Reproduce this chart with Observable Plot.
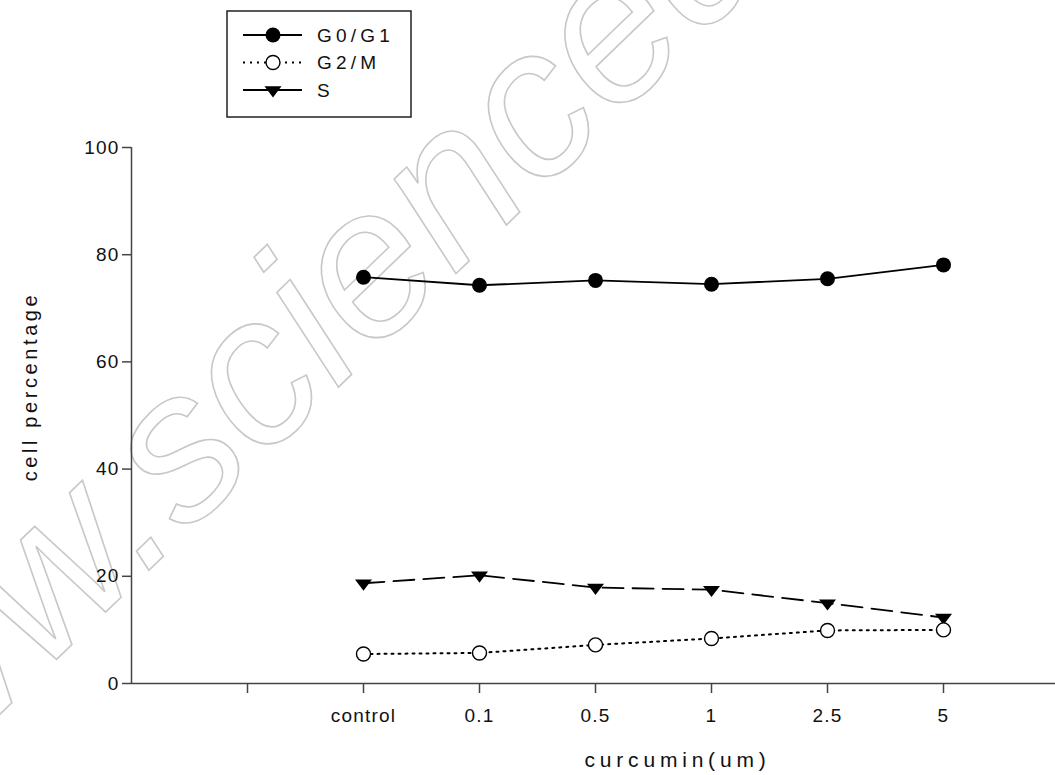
<!DOCTYPE html>
<html>
<head>
<meta charset="utf-8">
<script src="https://cdn.jsdelivr.net/npm/d3@7"></script>
<script src="https://cdn.jsdelivr.net/npm/@observablehq/plot@0.6"></script>
<style>
  html, body { margin: 0; padding: 0; background: #fff; }
  #chart svg { display: block; }
  #chart svg g[aria-label="y-axis tick label"] text,
  #chart svg g[aria-label="x-axis tick label"] text { letter-spacing: 1.2px; }
</style>
</head>
<body>
<div id="chart"></div>
<script>
// Cell-cycle distribution under increasing curcumin doses
const doses = ["control", "0.1", "0.5", "1", "2.5", "5"];
const g0g1 = [75.8, 74.3, 75.2, 74.5, 75.5, 78.1];
const g2m = [5.5, 5.7, 7.2, 8.4, 9.9, 10.0];
const sPhase = [18.7, 20.2, 17.9, 17.5, 15.0, 12.3];
const xTickLabels = ["", "control", "0.1", "0.5", "1", "2.5", "5"];
const yTicks = [0, 20, 40, 60, 80, 100];
const seriesNames = ["G0/G1", "G2/M", "S"];

// doses sit on slots 2..7; slot 1 is an empty tick, 0 and 8 pad the axis
const rows = (vals, name) => vals.map((v, i) => ({slot: i + 2, dose: doses[i], value: v, series: name}));
const g0Rows = rows(g0g1, seriesNames[0]);
const g2Rows = rows(g2m, seriesNames[1]);
const sRows = rows(sPhase, seriesNames[2]);

// flat downward triangle, centred on its centroid
const downTriangle = {
  draw(context) {
    context.moveTo(-8.5, -3.7);
    context.lineTo(8.5, -3.7);
    context.lineTo(0, 7.4);
    context.closePath();
  }
};

const font = "'Liberation Sans', Arial, sans-serif";

const chart = Plot.plot({
  width: 1055,
  height: 775,
  marginLeft: 131,
  marginRight: 0,
  marginTop: 147,
  marginBottom: 92,
  style: {fontFamily: font, fontSize: "19px", color: "#111", background: "#fff"},
  x: {domain: [0, 8], range: [131, 1059], axis: null},
  y: {domain: [0, 100], axis: null},
  marks: [
    // axes
    Plot.ruleX([0], {y1: 0, y2: 100, stroke: "#444", strokeWidth: 1.5}),
    Plot.ruleY([0], {x1: 0, x2: 8, stroke: "#444", strokeWidth: 1.5}),
    Plot.axisY({ticks: yTicks, tickSize: 9, tickPadding: 3, label: null, stroke: "#444", strokeWidth: 1.5, fontSize: 19}),
    Plot.axisX({ticks: d3.range(1, 8), tickFormat: d => xTickLabels[d - 1], tickSize: 10, tickPadding: 15, label: null, stroke: "#444", strokeWidth: 1.5, fontSize: 19}),
    Plot.text(["cell percentage"], {frameAnchor: "left", textAnchor: "middle", rotate: -90, dx: -101, dy: -29, fontSize: 20}),
    Plot.text(["curcumin(um)"], {frameAnchor: "bottom", textAnchor: "middle", dx: 84, dy: 83, fontSize: 21}),

    // G0/G1: solid line, filled circles
    Plot.line(g0Rows, {x: "slot", y: "value", stroke: "#000", strokeWidth: 1.8}),
    Plot.dot(g0Rows, {x: "slot", y: "value", r: 7.5, fill: "#000", stroke: "none"}),

    // S: dashed line, filled down triangles
    Plot.line(sRows, {x: "slot", y: "value", stroke: "#000", strokeWidth: 1.8, strokeDasharray: "21,9"}),
    Plot.dot(sRows, {x: "slot", y: "value", symbol: downTriangle, fill: "#000", stroke: "none"}),

    // G2/M: dotted line, open circles
    Plot.line(g2Rows, {x: "slot", y: "value", stroke: "#000", strokeWidth: 2, strokeDasharray: "2,5"}),
    Plot.dot(g2Rows, {x: "slot", y: "value", r: 7, fill: "#fff", stroke: "#000", strokeWidth: 1.4})
  ]
});

document.getElementById("chart").appendChild(chart);

const svg = d3.select(chart);
svg.selectAll("text").filter(function() { return this.textContent === "cell percentage"; }).attr("letter-spacing", "3.6px");
svg.selectAll("text").filter(function() { return this.textContent === "curcumin(um)"; }).attr("letter-spacing", "4.8px");

// faint outlined publisher mark behind the data
svg.insert("text", ":first-child")
  .attr("transform", "translate(-176,884) rotate(-44)")
  .attr("text-anchor", "start")
  .attr("font-family", font)
  .attr("font-style", "italic")
  .attr("font-size", 210)
  .attr("fill", "none")
  .attr("stroke", "#c8c8c8")
  .attr("stroke-width", 1.6)
  .text("www.sciencedirect.com");
svg.insert("rect", ":first-child").attr("width", 1055).attr("height", 775).attr("fill", "#fff");

// legend box
const legend = svg.append("g").attr("font-family", font).attr("font-size", 19).attr("text-anchor", "start");
legend.append("rect")
  .attr("x", 227).attr("y", 11).attr("width", 184).attr("height", 106)
  .attr("fill", "none").attr("stroke", "#222").attr("stroke-width", 1.5);

const legendItems = [
  {name: seriesNames[0], dash: null, marker: "filled"},
  {name: seriesNames[1], dash: "2,5", marker: "open"},
  {name: seriesNames[2], dash: null, marker: "triangle"}
];
legendItems.forEach((item, i) => {
  const y = 35 + i * 27.5;
  const row = legend.append("g").attr("transform", `translate(0,${y})`);
  row.append("line")
    .attr("x1", 243).attr("x2", 302).attr("y1", 0).attr("y2", 0)
    .attr("stroke", "#000").attr("stroke-width", item.dash ? 2 : 1.8)
    .attr("stroke-dasharray", item.dash);
  if (item.marker === "filled") {
    row.append("circle").attr("cx", 273).attr("cy", 0).attr("r", 7.5).attr("fill", "#000");
  } else if (item.marker === "open") {
    row.append("circle").attr("cx", 273).attr("cy", 0).attr("r", 7).attr("fill", "#fff").attr("stroke", "#000").attr("stroke-width", 1.4);
  } else {
    row.append("path").attr("transform", "translate(273,0)").attr("d", d3.symbol(downTriangle)()).attr("fill", "#000");
  }
  row.append("text")
    .attr("x", 317).attr("y", 0).attr("dy", "0.35em")
    .attr("text-anchor", "start")
    .attr("letter-spacing", "4.2px")
    .text(item.name);
});
</script>
</body>
</html>
